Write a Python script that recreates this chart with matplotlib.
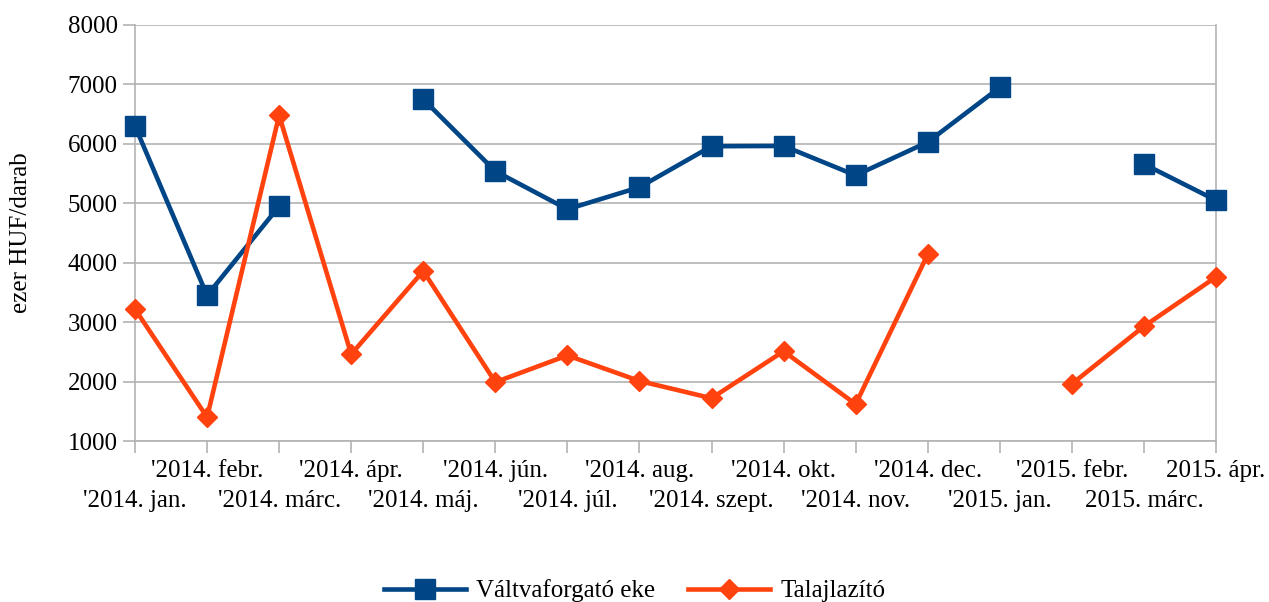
import numpy as np
import matplotlib.pyplot as plt

plt.rcParams['font.family'] = ['Liberation Serif', 'DejaVu Serif']

# categories (months)
months = ["'2014. jan.", "'2014. febr.", "'2014. márc.", "'2014. ápr.",
          "'2014. máj.", "'2014. jún.", "'2014. júl.", "'2014. aug.",
          "'2014. szept.", "'2014. okt.", "'2014. nov.", "'2014. dec.",
          "'2015. jan.", "'2015. febr.", "2015. márc.", "2015. ápr."]

# ezer HUF/darab, nan = missing
valtvaforgato = [6300, 3450, 4950, np.nan, 6750, 5540, 4900, 5270,
                 5960, 5965, 5470, 6030, 6950, np.nan, 5660, 5050]
talajlazito = [3220, 1400, 6480, 2460, 3860, 1990, 2440, 2010,
               1720, 2510, 1620, 4140, np.nan, 1960, 2930, 3760]

blue = '#004586'
orange = '#ff420e'
grid_col = '#b3b3b3'

fig = plt.figure(figsize=(12.69, 6.02), dpi=100)
ax = fig.add_axes([135/1269, 1 - 441/602, (1216-135)/1269, (441-25)/602])

x = np.arange(len(months))
ax.plot(x, valtvaforgato, color=blue, lw=3.3, marker='s', ms=14,
        label='Váltvaforgató eke', zorder=3, clip_on=False)
ax.plot(x, talajlazito, color=orange, lw=3.3, marker='D', ms=10,
        label='Talajlazító', zorder=3, clip_on=False)

ax.set_xlim(0, len(months) - 1)
ax.set_ylim(1000, 8000)
ax.set_yticks(range(1000, 8001, 1000))
ax.yaxis.grid(True, color=grid_col, lw=1.2)
ax.set_axisbelow(True)

ax.set_xticks(x)
ax.set_xticklabels(months, fontsize=18)

for sp in ax.spines.values():
    sp.set_color(grid_col)
    sp.set_linewidth(1.2)
ax.spines['top'].set_visible(False)

ax.tick_params(axis='x', length=8.5, width=1.2, color=grid_col)
ax.tick_params(axis='y', length=8.5, width=1.2, color=grid_col, labelsize=18, pad=4)

# staggered labels: even ones in the lower row
for i, t in enumerate(ax.xaxis.get_major_ticks()):
    t.set_pad(5 if i % 2 == 1 else 27)

ax.set_ylabel('ezer HUF/darab', fontsize=18, labelpad=26)

leg = fig.legend(loc='lower center', bbox_to_anchor=(0.5, -0.038), ncol=2,
                 frameon=False, fontsize=18, handlelength=3.3,
                 columnspacing=1.3, handletextpad=0.4)

fig.savefig('out.png', dpi=100)
